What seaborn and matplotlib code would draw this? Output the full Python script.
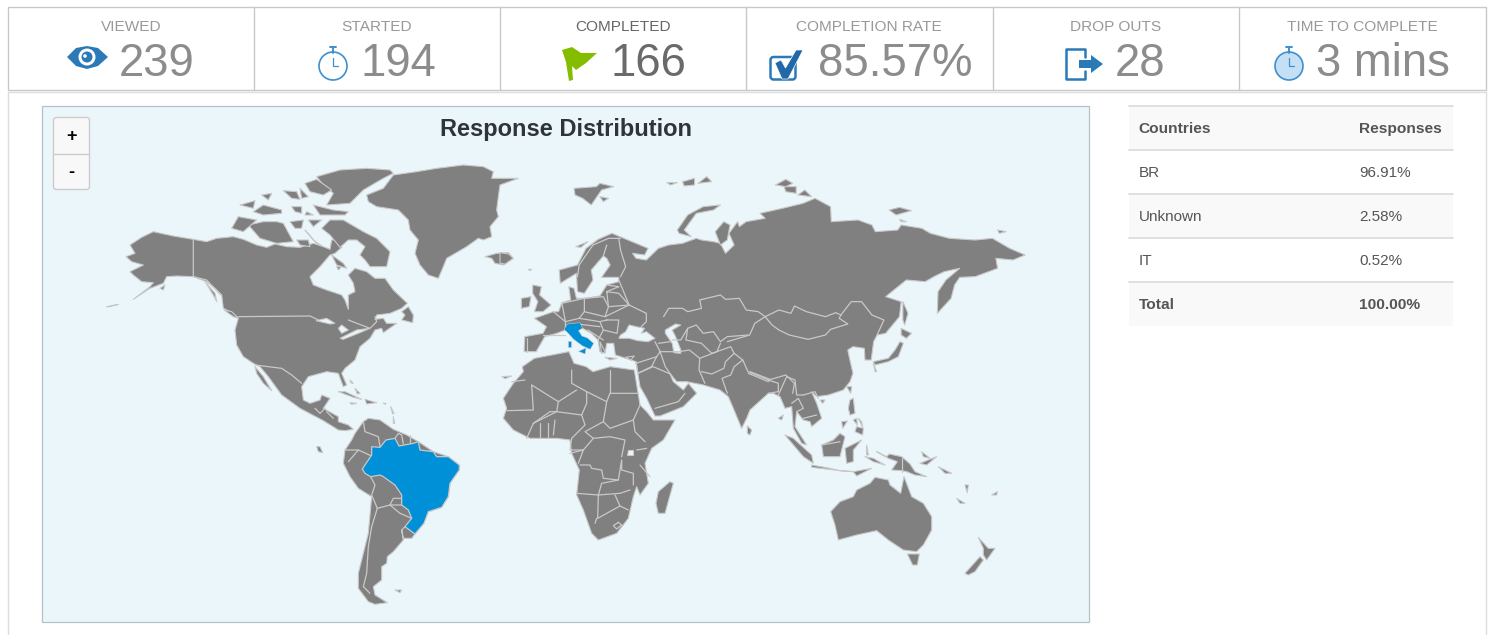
import numpy as np
import pandas as pd
import matplotlib
matplotlib.use("Agg")
import matplotlib.pyplot as plt
from matplotlib.patches import Polygon, Rectangle, FancyBboxPatch, Circle, Ellipse
import seaborn as sns

# ---------- data ----------
kpi_labels = ["VIEWED", "STARTED", "COMPLETED", "COMPLETION RATE", "DROP OUTS", "TIME TO COMPLETE"]
kpi_values = ["239", "194", "166", "85.57%", "28", "3 mins"]
table_header = ["Countries", "Responses"]
table_countries = ["BR", "Unknown", "IT", "Total"]
table_shares = ["96.91%", "2.58%", "0.52%", "100.00%"]
title = "Response Distribution"

# outlines are traced from zoomed views: (origin x, origin y, scale x, scale y)
VIEWS = {3: (100, 160, 3.0, 3.0), 4: (300, 370, 3.0, 3.0), 5: (500, 170, 2.904, 3.0), 6: (640, 340, 3.0, 3.0)}


def Z(k, pts):
    ox, oy, sx, sy = VIEWS[k]
    return [(ox + x / sx, oy + y / sy) for x, y in pts]


north_america = Z(3, [(78,290),(105,280),(90,255),(125,232),(160,215),(220,228),(280,238),(320,245),(350,235),(400,230),
    (430,238),(470,255),(500,262),(525,252),(560,260),(600,262),(640,250),(665,258),(690,268),(695,240),(722,240),(725,262),(705,280),(690,285),(660,320),(630,350),
    (640,375),(680,390),(725,405),(735,420),(745,448),(745,405),(765,395),(760,370),(745,345),(765,325),(800,335),
    (825,355),(855,355),(880,390),(922,430),(905,445),(870,460),(830,465),(825,478),(850,475),(860,490),(890,490),(850,518),(845,505),(825,510),
    (810,535),(780,560),(765,600),(735,625),(725,640),(740,675),(730,680),(715,640),(680,635),(625,650),(605,680),
    (610,720),(630,730),(660,720),(665,705),(690,715),(670,745),(715,770),(715,785),(745,795),(760,808),(735,812),
    (715,810),(670,782),(600,745),(545,705),(505,650),(480,620),(460,610),(430,590),(410,555),(405,510),(415,475),
    (400,460),(370,445),(365,405),(345,385),(320,365),(280,350),(230,348),(200,350),(190,370),(150,385),(100,418),
    (150,380),(160,368),(125,365),(100,345),(90,335),(130,315),(95,305)])
greenland = Z(3, [(800,105),(850,85),(880,45),(950,35),(1010,25),(1090,15),(1150,20),(1180,35),(1175,55),(1255,55),(1200,75),
    (1195,110),(1190,150),(1195,170),(1170,200),(1175,230),(1150,240),(1135,235),(1100,260),(1040,295),(1030,320),
    (1015,355),(985,345),(960,315),(945,280),(955,240),(930,210),(925,180),(895,150),(830,140),(805,125)])
arctic = [Z(3, p) for p in [
    [(1155,290),(1190,280),(1225,278),(1240,295),(1210,315),(1185,310),(1175,295)],
    [(650,50),(720,30),(800,25),(870,30),(880,40),(850,55),(790,90),(750,130),(680,135),(700,100),(670,75)],
    [(615,70),(650,58),(695,90),(670,105),(630,95)],
    [(665,205),(690,180),(730,180),(790,215),(830,235),(870,275),(860,320),(810,320),(795,300),(780,285),(795,260),(770,240),(745,240),(720,262),(690,225)],
    [(445,195),(490,185),(530,185),(550,190),(580,245),(530,250),(480,235)],
    [(395,205),(415,170),(470,180),(430,215)],
    [(550,92),(590,95),(600,118),(575,115)],[(420,135),(465,122),(460,145)],
    [(460,155),(490,135),(545,150),(545,160),(490,165)],[(575,140),(605,140),(605,160),(585,155)],
    [(640,135),(700,150),(745,155),(735,165),(660,165)],[(570,185),(610,180),(605,205),(585,205)],
    [(625,180),(665,180),(640,200)],[(620,155),(640,165),(615,165)],[(615,210),(650,250),(665,258),(640,240)],
    [(590,240),(625,240),(630,260),(600,255)],[(695,285),(730,310),(740,325),(710,315)],
    [(372,450),(395,455),(415,475),(400,470)],[(180,385),(195,375),(190,390)],[(20,440),(55,433),(30,440)],
    [(315,365),(345,400),(350,425),(340,405)],[(710,320),(725,320),(715,330)],
    [(905,455),(925,440),(940,465),(938,488),(905,480),(915,465)],[(485,105),(515,100),(505,120)],[(600,85),(625,110),(605,115)],
    [(1285,328),(1295,328),(1290,332)]]]
baja = Z(3, [(465,620),(490,650),(515,692),(490,670),(470,640)])
caribbean = [Z(4, p) for p in [
    [(115,65),(135,65),(185,88),(160,82)],[(195,88),(230,98),(200,102)],[(150,98),(170,100),(155,103)],
    [(50,230),(60,230),(68,248),(55,245)],[(285,660),(305,660),(300,668)],[(250,100),(258,100),(256,103)],
    [(606,20),(635,18),(615,26)],[(150,30),(160,40),(152,38)],[(165,55),(180,70),(172,72)],[(272,110),(282,130),(278,132)],[(280,140),(284,160),(280,160)]]]
south_america = Z(4, [(190,155),(205,145),(240,150),(280,178),(320,195),(355,215),(400,245),(445,260),(480,290),(450,340),(445,380),
    (425,412),(385,425),(370,460),(345,492),(335,505),(310,505),(305,480),(310,510),(280,545),(262,560),(260,580),
    (245,590),(245,630),(220,650),(225,675),(262,698),(225,703),(205,695),(175,655),(175,610),(185,570),(205,490),
    (215,380),(175,355),(150,320),(130,280),(135,240),(155,210),(165,190)])
brazil = Z(4, [(187,297),(215,255),(215,230),(240,232),(258,210),(285,205),(297,228),(340,220),(355,215),(360,240),(400,245),
    (410,260),(445,260),(478,285),(478,300),(450,340),(445,380),(425,412),(385,425),(372,460),(345,492),(315,470),
    (335,445),(325,420),(305,405),(305,375),(285,345),(250,320),(240,315),(212,320),(195,310)])
africa = (Z(5, [(65,590),(100,565),(125,560),(200,545),(215,580),(250,590),(270,605),(320,590),(390,600)])
    + Z(6, [(0,195),(20,215),(40,240),(105,240),(70,300),(35,325),(15,370),(25,430),(0,465)])
    + Z(4, [(1010,350),(1000,380),(985,445),(950,490),(895,510),(875,490),(850,420),(830,375),(838,300),(815,250),
            (810,210),(770,205),(690,205),(640,180),(610,145),(620,115),(610,85),(640,40),(670,5)]))
eurasia = (Z(5, [(70,545),(72,500),(125,490),(135,470),(100,445),(155,425),(170,425),(180,398),(205,390),(200,350),(215,355),
        (222,385),(245,385),(290,378),(310,345),(345,335),(345,322),(295,322),(320,285),(310,265),(300,258),(265,300),(270,330),
        (245,370),(225,365),(222,310),(175,340),(172,300),(225,285),(250,235),(285,208),(325,190),(360,205),(430,235),
        (420,255),(385,250),(395,265),(425,270),(460,235),(490,225),(530,220),(570,205),(585,210),(620,215),(640,220),
        (655,250),(680,225),(665,190),(690,155),(695,170),(715,155),(770,145),(755,130),(820,115),(880,100),(915,85),
        (960,110),(962,155),(1040,150),(1080,165),(1090,185),(1155,180),(1165,165),(1225,175),(1250,190),(1305,205),
        (1380,210),(1430,205),(1480,235),(1525,255),(1490,270),(1440,265),(1445,295),(1380,320),(1335,322),(1320,345),
        (1310,385),(1270,430),(1272,365),(1295,330),(1335,295),(1290,305),(1260,320),(1235,335),(1180,330),(1120,380),
        (1165,395),(1160,440),(1120,490),(1095,495),(1085,515),(1078,570),(1060,570),(1058,535),(1025,530),(1010,540),(1015,565),(1025,610)])
    + Z(6, [(630,125),(610,150),(565,165),(530,170),(515,155),(530,190),(545,235),(515,260),(510,245),(490,240),(470,215),
        (465,260),(500,315),(485,310),(460,265),(455,200),(435,205),(420,170),(400,160),(385,160),(330,210),(320,235),
        (305,265),(280,205),(265,170),(240,150),(190,135),(140,125),(110,125),(88,98),(100,125),(130,150),(145,130),(170,160),
        (130,200),(60,228),(45,228),(20,175),(0,140)])
    + Z(5, [(395,575),(335,555),(330,520),(310,520),(305,550),(290,545),(285,510),(265,490),(240,475),(190,480),(165,490),
        (130,500),(105,545)]))
islands = [Z(5, p) for p in [
    [(95,345),(120,350),(115,375),(148,405),(125,425),(100,425),(110,395),(95,370)],[(62,385),(90,380),(85,410),(62,415)],
    [(215,55),(280,50),(290,40),(330,50),(295,60),(265,105),(240,85),(218,75)],[(290,80),(315,85),(300,95)],
    [(485,38),(515,38),(495,45)],[(530,35),(565,25),(565,45),(535,48)],[(575,40),(600,20),(615,35)],
    [(515,180),(545,135),(590,110),(640,105),(620,120),(570,130),(535,180),(555,200),(520,190)],
    [(625,185),(650,155),(668,165),(660,210),(640,225)],
    [(800,45),(830,28),(850,40),(830,50)],[(825,50),(860,50),(860,70),(830,65)],[(865,75),(885,60),(905,80)],
    [(1130,120),(1160,112),(1195,122),(1150,135)],[(1445,180),(1470,185),(1450,190)],[(1160,148),(1180,155),(1165,155)],
    [(1170,395),(1185,430),(1175,465),(1170,450)],[(1165,475),(1195,490),(1180,505),(1165,495)],
    [(220,230),(255,215),(235,232)],[(305,562),(340,565),(320,570)],[(365,562),(390,558),(380,570)],[(290,515),(305,545),(295,550)],
    [(0,280),(0,248),(25,252),(38,265),(15,282)]]]
asia_pacific = [Z(6, p) for p in [
    [(435,285),(460,295),(515,345),(520,370),(490,350)],[(515,375),(570,385),(600,392),(515,382)],
    [(600,392),(640,395),(695,385),(650,408),(640,395)],
    [(545,315),(580,300),(600,280),(615,290),(600,350),(550,350)],[(615,325),(665,300),(640,330),(640,365),(620,370)],
    [(710,335),(740,350),(748,342),(785,350),(810,372),(825,395),(860,410),(825,405),(800,395),(785,392),(755,390),(772,365),(745,355)],
    [(630,180),(640,175),(645,220),(630,225),(625,205)],[(650,260),(670,265),(668,285),(645,275)],
    [(322,258),(335,270),(330,285),(322,280)],[(540,180),(555,180),(548,190)],[(620,140),(635,140),(632,160)],
    [(780,5),(790,10),(775,50),(745,65),(705,75),(700,65),(745,55),(765,30)],[(700,70),(710,95),(705,95)],
    [(48,490),(55,455),(90,425),(100,430),(75,520),(55,520)],
    [(572,515),(600,485),(640,470),(650,450),(690,430),(705,412),(745,420),(750,435),(782,460),(792,410),(815,470),
     (850,490),(875,530),(875,570),(850,615),(830,635),(790,630),(745,600),(710,572),(650,585),(595,600),(585,555)],
    [(802,642),(838,642),(832,675),(818,675)],
    [(1015,592),(1045,625),(1065,625),(1040,660),(1030,645),(1030,625)],[(975,700),(1020,650),(1030,660),(1005,695),(985,705)],
    [(895,380),(935,400),(915,400)],[(840,370),(890,350),(860,375)],[(845,335),(870,355),(850,350)],
    [(975,435),(985,435),(982,458)],[(950,475),(975,490),(960,490)],[(1055,465),(1072,455),(1070,465)],
    [(415,235),(430,225),(425,240)],[(605,245),(622,243),(608,265)],[(680,315),(685,345),(680,345)],[(675,350),(700,355),(735,375),(700,365)],
    [(640,240),(650,235),(652,255)],[(655,235),(665,245),(668,262)]]]
inland_seas = [Z(5, p) for p in [
    [(480,480),(510,462),(525,465),(500,480),(510,500),(525,540),(525,550),(505,548),(500,520),(480,490)],
    [(375,465),(365,485),(350,495),(345,505),(375,505),(400,512),(430,515),(450,505),(425,485),(410,490),(420,475),(395,470)]]] + [
    Z(4, [(985,240),(998,240),(998,255),(982,255)])] + [Z(3, p) for p in [
    [(648,482),(680,475),(705,490),(690,492)],[(715,505),(725,495),(745,510),(725,520)],[(720,535),(770,510),(810,505),(775,520),(730,538)]]]
italy = [Z(5, p) for p in [
    [(186,478),(196,462),(232,458),(240,474),(228,482),(238,498),(254,504),(272,520),(262,538),(240,528),(214,508),(198,490)],
    [(197,512),(207,512),(207,532),(197,532)],[(228,544),(250,534),(247,552)]]]

borders = [Z(3, p) for p in [
    [(280,238),(280,350),(320,360),(362,405)],[(415,470),(630,468),(655,480)],[(465,615),(545,625),(575,645),(605,670)],
    [(745,480),(810,505),(830,485),(825,470)],[(645,745),(660,760),(675,745)],[(680,755),(700,775)]]]
borders += [Z(4, p) for p in [
    [(190,155),(195,185),(235,200),(240,230)],[(135,240),(175,240),(215,258)],[(145,275),(175,240)],
    [(212,320),(225,345),(215,375),(232,415)],[(232,415),(270,405),(305,405)],[(270,405),(280,385),(305,385)],
    [(270,405),(300,430),(335,445)],[(232,415),(215,470),(205,530),(200,610),(190,650),(210,670)],[(305,480),(315,470)],
    [(285,205),(295,190),(305,195),(310,222)],[(330,220),(330,195)],
    [(695,45),(775,95),(830,60)],[(695,45),(700,120),(620,122)],[(775,95),(770,125),(700,160),(680,205)],
    [(815,0),(815,40),(860,65),(920,95),(930,70),(1015,70)],[(930,0),(930,70)],[(860,65),(860,100),(845,135),(855,165),(815,205)],
    [(920,95),(910,155),(855,185),(880,205),(930,200),(975,210),(965,260)],[(910,155),(930,175),(1000,150),(1005,185),(1035,215)],
    [(1020,105),(1000,150)],[(700,160),(750,125),(770,125),(845,135)],[(720,160),(720,200)],[(745,160),(745,200)],[(765,150),(760,195)],
    [(815,205),(810,240),(850,240),(880,205)],[(810,250),(850,240),(835,280)],
    [(840,285),(870,285),(875,295),(905,300),(910,325),(955,330),(965,270),(965,300),(1000,310),(1000,345)],
    [(830,370),(895,375),(905,340),(955,330)],[(895,375),(960,370),(990,360)],[(895,375),(893,445),(960,408),(985,420)],
    [(885,460),(890,445)],[(960,408),(945,375)],[(955,457),(965,465),(950,477),(940,467),(955,457)],
    [(635,35),(675,30)],[(1010,240),(1040,235)],[(1020,285),(1050,320)]]]
borders += [Z(5, p) for p in [
    [(475,440),(490,415),(530,415),(545,425),(585,415),(580,390),(640,375),(655,388),(695,385),(715,420),(750,425),(770,440)],
    [(770,440),(810,420),(845,430),(855,408),(890,425),(945,440),(975,428),(990,435),(985,445),(1010,462),(960,478),(945,495),(895,508),(840,495),(810,480),(790,465),(770,440)],
    [(990,435),(1020,395),(1050,395),(1080,435),(1115,450),(1095,495)],[(770,440),(740,460),(725,495),(660,515)],
    [(500,510),(525,510),(545,475),(570,465),(590,490),(620,485),(640,515),(660,500),(720,495)],[(545,475),(540,510),(585,520),(615,550),(630,545),(640,520)],
    [(465,545),(520,545),(550,540),(580,565),(578,600),(595,640)],[(580,565),(630,545),(670,530),(680,550),(655,575),(650,595),(615,612),(585,605)],
    [(680,550),(705,570),(680,590),(670,615),(645,625),(660,670)],[(705,570),(720,605),(780,630),(830,615),(855,640),(850,670)],
    [(395,580),(455,560),(465,545)],[(450,515),(465,545)],[(455,560),(440,590),(400,610)],[(465,545),(480,590),(500,620)],[(400,610),(445,590),(490,610)],
    [(350,320),(365,290),(350,240),(345,205)],[(350,205),(315,205),(270,225),(230,285),(225,320)],[(310,225),(300,258)],
    [(345,330),(375,405),(425,430),(425,455),(410,470)],[(310,365),(345,370),(375,405),(315,410),(310,365)],
    [(245,385),(300,380),(315,410),(305,440),(245,425)],[(180,400),(245,385),(245,425),(230,445),(190,455),(180,400)],
    [(155,425),(190,455),(190,480)],[(125,495),(190,495)],[(78,505),(78,545)],[(310,450),(345,450),(340,490),(300,480),(290,455),(310,450)],
    [(305,440),(375,405)],[(230,445),(290,455)],[(300,480),(285,510)],[(225,462),(290,470)],[(255,480),(300,510)],
    [(310,345),(345,350)],[(310,365),(345,350)],[(460,520),(495,515)],[(400,610),(395,575)]]]
borders += [Z(6, p) for p in [
    [(415,165),(440,110),(465,120),(470,165),(490,165)],[(455,190),(475,175),(490,205),(470,215)],
    [(490,165),(525,155),(535,175)],[(490,235),(530,225)],[(385,160),(415,155),(415,130),(385,120)],[(325,100),(385,125),(390,118),(330,95)],
    [(785,355),(785,395)],[(45,205),(115,185),(135,160)],[(545,315),(600,305)]]]
land_shapes = [north_america, greenland, baja, south_america, africa, eurasia] + arctic + caribbean + islands + asia_pacific

# ---------- drawing ----------
sns.set_theme(style="white")
plt.rcParams["font.family"] = ["Liberation Sans", "DejaVu Sans"]
LAND, COAST, BLUE, SEA = "#808080", "#c9c9c9", "#0090d7", "#ebf6fb"
FRAME, ICON = "#c8c8c8", "#2a7ab8"

fig = plt.figure(figsize=(14.91, 6.35), dpi=100, facecolor="white")
ax = fig.add_axes([0, 0, 1, 1])
frame_rows = []

# KPI row
ax.add_patch(Rectangle((8, 7), 1477.5, 83, fc="white", ec=FRAME, lw=1.0))
ax.plot([8, 8, 1485.5, 1485.5], [635, 92, 92, 635], color="#dddddd", lw=1.0)
for sx in [253.5, 499.5, 745.5, 992.5, 1238.5]:
    ax.plot([sx, sx], [7, 90], color=FRAME, lw=1.0)
label_x = [131, 377, 623, 869, 1116, 1362]
value_x = [119, 360, 610, 818, 1115, 1316]
for i, (lab, val) in enumerate(zip(kpi_labels, kpi_values)):
    dark = lab == "COMPLETED"
    ax.text(label_x[i], 26.6, lab, ha="center", va="center", fontsize=11.05, color="#666666" if dark else "#999999")
    ax.text(value_x[i], 76.5, val, ha="left", va="baseline", fontsize=32.8, color="#6a6a6a" if dark else "#8c8c8c")

# icons
ax.add_patch(Polygon([(67, 57), (76, 48), (87, 46), (98, 48), (108, 57), (98, 66), (87, 69), (76, 66)], fc=ICON, ec="none"))
ax.add_patch(Circle((87, 57), 8.5, fc="white", ec="none"))
ax.add_patch(Circle((87, 57), 5.5, fc=ICON, ec="none"))
ax.add_patch(Circle((85, 56), 1.8, fc="white", ec="none"))
for cx, cy, inner in [(333, 66, "white"), (1289, 66, "#c5e0f5")]:
    ax.add_patch(Circle((cx, cy), 14, fc=inner, ec="#3f8fcf", lw=1.2))
    ax.plot([cx, cx], [cy - 13, cy - 19], color="#3f8fcf", lw=1.4)
    ax.plot([cx - 3, cx + 3], [cy - 19, cy - 19], color="#3f8fcf", lw=1.4)
    ax.plot([cx, cx, cx + 5], [cy - 8, cy, cy], color="#3f8fcf", lw=0.9)
ax.add_patch(Polygon([(562, 50), (572, 47), (581, 53), (597, 53), (586, 63), (576, 70), (572, 66), (573, 80), (569, 81), (566, 62)], fc="#84bd00", ec="none"))
ax.add_patch(FancyBboxPatch((770.5, 57), 25, 22.5, boxstyle="round,pad=0,rounding_size=3", fc="white", ec=ICON, lw=1.8))
ax.add_patch(Polygon([(775, 63), (781, 60), (785.5, 68), (796, 50), (803, 50), (788, 79), (782, 79)], fc="#2268a8", ec="white", lw=0.5))
ax.plot([1085, 1085, 1066, 1066, 1085, 1085], [57, 49, 49, 79, 79, 71], color=ICON, lw=1.8)
ax.add_patch(Polygon([(1079, 60), (1091, 60), (1091, 55), (1103, 64), (1091, 73), (1091, 68), (1079, 68)], fc=ICON, ec="none"))

# map
ax.add_patch(Rectangle((42, 106), 1046.5, 516, fc=SEA, ec="#b4c4c6", lw=0.9))
for shape in land_shapes:
    ax.add_patch(Polygon(shape, closed=True, fc=LAND, ec=COAST, lw=0.8, joinstyle="round"))
for shape in inland_seas:
    ax.add_patch(Polygon(shape, closed=True, fc=SEA, ec=COAST, lw=0.8))
ax.add_patch(Polygon(brazil, closed=True, fc=BLUE, ec=COAST, lw=0.9, zorder=3))

for k, line in enumerate(borders):
    for x, y in line:
        frame_rows.append({"id": k, "x": x, "y": y})
sns.lineplot(data=pd.DataFrame(frame_rows), x="x", y="y", units="id", estimator=None, sort=False,
             color=COAST, lw=0.9, legend=False, ax=ax, zorder=2)
for shape in italy:
    ax.add_patch(Polygon(shape, closed=True, fc=BLUE, ec=COAST, lw=0.4, zorder=3))

ax.text(566.5, 129.3, title, ha="center", va="center", fontsize=17, fontweight="bold", color="#2f3438", zorder=5)

# zoom buttons
ax.add_patch(FancyBboxPatch((53.5, 117.5), 36, 72, boxstyle="round,pad=0,rounding_size=3", fc="#f8f8f8", ec="#cccccc", lw=1, zorder=5))
ax.plot([54, 89], [153.5, 153.5], color="#cccccc", lw=1, zorder=6)
ax.text(71.5, 136.5, "+", ha="center", va="center", fontsize=13, fontweight="bold", color="black", zorder=6)
ax.text(71.5, 172.5, "-", ha="center", va="center", fontsize=13, fontweight="bold", color="black", zorder=6)

# table
row_top = [105.5, 149.5, 193.5, 237.5, 281.5]
rows = [table_header] + [[a, b] for a, b in zip(table_countries, table_shares)]
for j, (top, row) in enumerate(zip(row_top, rows)):
    if j % 2 == 0:
        ax.add_patch(Rectangle((1129, top), 324, 44, fc="#f9f9f9", ec="none"))
    ax.plot([1129, 1453], [top + 0.5, top + 0.5], color="#dddddd", lw=1.3)
    w = "bold" if j in (0, 4) else "normal"
    fs = 11.15 if w == "bold" else 11.0
    ax.text(1138.5, top + 23.2, row[0], ha="left", va="center", fontsize=fs, fontweight=w, color="#555555")
    ax.text(1359.5, top + 23.2, row[1], ha="left", va="center", fontsize=fs, fontweight=w, color="#555555")

ax.set_xlim(0, 1491)
ax.set_ylim(635, 0)
ax.set_xlabel("")
ax.set_ylabel("")
ax.set_axis_off()
fig.savefig("out.png", dpi=100, facecolor="white")
